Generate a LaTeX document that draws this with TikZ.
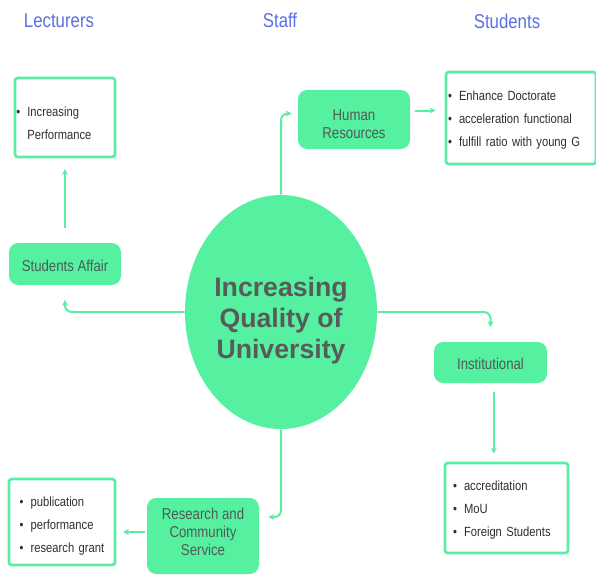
\documentclass[tikz,border=0pt]{standalone}
\usepackage{fontspec}
\setmainfont{Liberation Sans}[FakeStretch=0.84]
\newfontfamily\hubfont{Liberation Sans}
\usepackage{xcolor}
\usepackage{tikz}
\usetikzlibrary{shapes.geometric,arrows.meta,positioning,calc}

\definecolor{mint}{HTML}{55F0A0}
\definecolor{mintline}{HTML}{5BEDA2}
\definecolor{headblue}{HTML}{5C6FE0}
\definecolor{boxtext}{HTML}{4E5C55}
\definecolor{hubtext}{HTML}{585B59}
\definecolor{listtext}{HTML}{2F2F2F}

\newcommand{\li}[1]{\makebox[8.25pt][l]{\textbullet}#1}

\begin{document}
\begin{tikzpicture}[
    x=0.75pt, y=-0.75pt,
    head/.style={text=headblue, font=\fontsize{15}{17}\selectfont},
    topic/.style={rectangle, rounded corners=7pt, fill=mint, text=boxtext, align=center, minimum width=84pt, font=\fontsize{11.8}{13.5}\selectfont},
    itembox/.style={rectangle, draw=mintline, line width=2pt, rounded corners=2pt, fill=white, align=left, text=listtext, font=\fontsize{10}{17.25}\selectfont},
    hub/.style={ellipse, fill=mint, minimum width=144pt, minimum height=175.5pt, inner sep=0pt, align=center, text=hubtext, font=\hubfont\fontsize{20}{23.25}\selectfont\bfseries},
    arrow/.style={-{Stealth[length=4.5pt,width=4.5pt]}, line width=1.5pt, draw=mintline, rounded corners=5pt}
]
    \useasboundingbox (0,0) rectangle (596,578);

    % headings
    \node[head] (lecturers) at (59,21) {Lecturers};
    \node[head] (staff) at (280,20) {Staff};
    \node[head] (students) at (507,21) {Students};

    % centre
    \node[hub] (hub) at (281,312) {\rule{0pt}{28pt}Increasing\\Quality of\\University};

    % topics
    \node[topic, minimum height=31.5pt] (affair) at (65,264) {\rule{0pt}{11pt}Students Affair};
    \node[topic, minimum height=44.25pt] (hr) at (354,119.5) {\rule{0pt}{15pt}Human\\Resources};
    \node[topic, minimum width=84.75pt, minimum height=30.75pt] (inst) at (490.5,362.5) {\rule{0pt}{11pt}Institutional};
    \node[topic, minimum height=57pt] (research) at (203,536) {Research and\\Community\\Service\rule[-7pt]{0pt}{7pt}};

    % item lists
    \node[itembox, inner xsep=1pt, text width=73pt, minimum height=59.25pt] (lectlist) at (65,117.5)
        {\rule{0pt}{16.5pt}\li{Increasing}\\\hspace*{8.25pt}Performance};
    \node[itembox, inner xsep=1.5pt, text width=109.5pt, minimum height=69pt] (studlist) at (521,118)
        {\rule{0pt}{10pt}\li{Enhance Doctorate}\\\li{acceleration functional}\\\li{fulfill ratio with young G}};
    \node[itembox, inner xsep=6pt, text width=80.25pt, minimum height=67.5pt] (instlist) at (506.5,508)
        {\rule{0pt}{11pt}\li{accreditation}\\\li{MoU}\\\li{Foreign Students}};
    \node[itembox, inner xsep=8pt, text width=63.5pt, minimum height=64.5pt] (reslist) at (62,522)
        {\rule{0pt}{14pt}\li{publication}\\\li{performance}\\\li{research grant}};

    % connectors
    \draw[arrow, shorten <=11pt, shorten >=8pt] (affair) -- (lectlist);
    \draw[arrow, shorten >=11pt] (hub.west) -| (affair.south);
    \draw[arrow, shorten >=4.5pt] (hub.north) |- ([yshift=4.5pt]hr.west);
    \draw[arrow, shorten <=3.75pt, shorten >=6.75pt] ([yshift=6.75pt]hr.east) -- ([yshift=6.75pt]hr.east -| studlist.west);
    \draw[arrow, shorten >=11pt] (hub.east) -| (inst.north);
    \draw[arrow, shorten <=6.75pt, shorten >=6pt] ([xshift=2.5pt]inst.south) -- ([xshift=2.5pt]inst.south |- instlist.north);
    \draw[arrow, shorten >=6.75pt] (hub.south) |- ([yshift=14.25pt]research.east);
    \draw[arrow, shorten <=1.5pt, shorten >=5pt] ([yshift=3pt]research.west) -- ([yshift=3pt]research.west -| reslist.east);
\end{tikzpicture}
\end{document}
